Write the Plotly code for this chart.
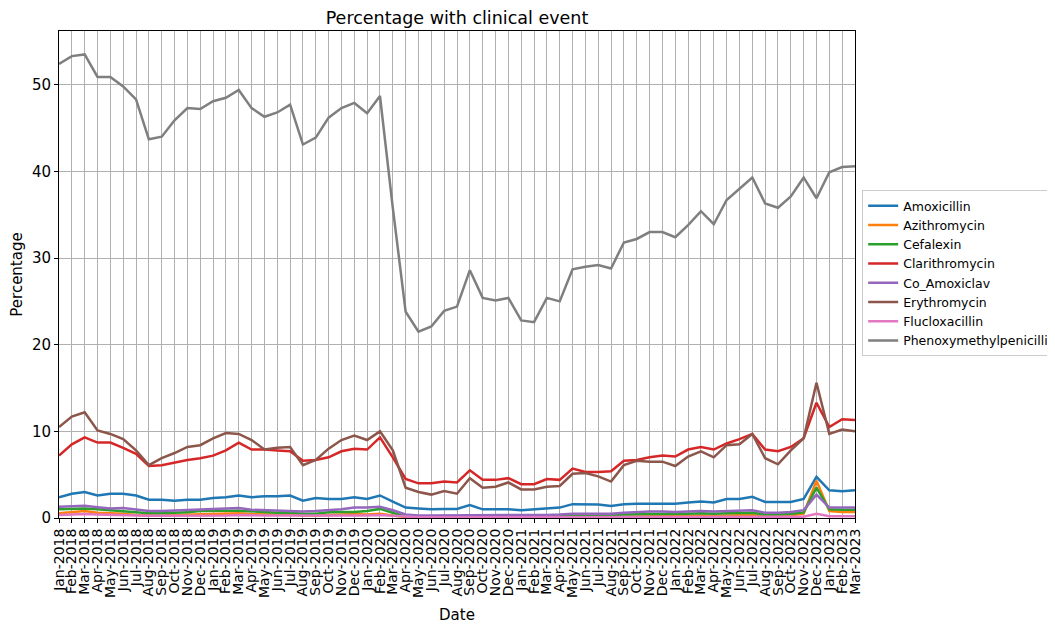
import plotly.graph_objects as go

month_names = ["Jan", "Feb", "Mar", "Apr", "May", "Jun", "Jul", "Aug", "Sep", "Oct", "Nov", "Dec"]
dates = [f"{m}-{y}" for y in range(2018, 2023) for m in month_names] + ["Jan-2023", "Feb-2023", "Mar-2023"]

amoxicillin = [2.4, 2.8, 3.0, 2.6, 2.8, 2.8, 2.6, 2.1, 2.1, 2.0, 2.1, 2.1,
               2.3, 2.4, 2.6, 2.4, 2.5, 2.5, 2.6, 2.0, 2.3, 2.2, 2.2, 2.4,
               2.2, 2.6, 1.9, 1.2, 1.1, 1.0, 1.05, 1.05, 1.5, 1.0, 1.0, 1.0,
               0.9, 1.0, 1.1, 1.2, 1.6, 1.6, 1.55, 1.4, 1.6, 1.65, 1.65, 1.65,
               1.65, 1.8, 1.9, 1.8, 2.2, 2.2, 2.45, 1.85, 1.85, 1.85, 2.2, 4.75,
               3.2, 3.1, 3.2]
azithromycin = [0.55, 0.7, 0.8, 0.6, 0.55, 0.5, 0.35, 0.3, 0.3, 0.35, 0.4, 0.45,
                0.45, 0.5, 0.55, 0.45, 0.4, 0.4, 0.4, 0.3, 0.3, 0.35, 0.4, 0.45,
                0.4, 0.5, 0.3, 0.1, 0.08, 0.08, 0.08, 0.08, 0.1, 0.08, 0.08, 0.08,
                0.06, 0.06, 0.07, 0.08, 0.1, 0.1, 0.1, 0.1, 0.15, 0.2, 0.2, 0.2,
                0.2, 0.25, 0.3, 0.25, 0.3, 0.3, 0.35, 0.2, 0.2, 0.3, 0.5, 4.3,
                0.8, 0.7, 0.7]
cefalexin = [1.0, 1.05, 1.1, 1.0, 0.9, 0.8, 0.7, 0.55, 0.55, 0.6, 0.65, 0.8,
             0.85, 0.85, 0.85, 0.75, 0.65, 0.6, 0.6, 0.5, 0.5, 0.65, 0.7, 0.7,
             0.8, 1.05, 0.6, 0.2, 0.15, 0.15, 0.15, 0.15, 0.2, 0.15, 0.15, 0.15,
             0.15, 0.15, 0.2, 0.2, 0.3, 0.3, 0.35, 0.35, 0.4, 0.45, 0.45, 0.45,
             0.45, 0.5, 0.55, 0.5, 0.55, 0.55, 0.6, 0.4, 0.4, 0.5, 0.65, 3.5,
             1.0, 0.95, 0.95]
clarithromycin = [7.2, 8.5, 9.3, 8.7, 8.7, 8.1, 7.4, 6.0, 6.1, 6.4, 6.7, 6.9,
                  7.2, 7.8, 8.7, 7.9, 7.9, 7.8, 7.7, 6.6, 6.7, 7.0, 7.7, 8.0,
                  7.9, 9.3, 7.0, 4.5, 4.0, 4.0, 4.2, 4.1, 5.5, 4.4, 4.4, 4.6,
                  3.9, 3.9, 4.5, 4.4, 5.7, 5.3, 5.3, 5.4, 6.6, 6.7, 7.0, 7.2,
                  7.1, 7.9, 8.2, 7.9, 8.6, 9.1, 9.7, 7.9, 7.7, 8.2, 9.2, 13.3,
                  10.5, 11.4, 11.3]
co_amoxiclav = [1.3, 1.35, 1.4, 1.25, 1.1, 1.15, 0.95, 0.8, 0.8, 0.85, 0.95, 1.0,
                1.0, 1.05, 1.15, 0.95, 0.9, 0.9, 0.85, 0.75, 0.8, 0.9, 1.0, 1.2,
                1.2, 1.3, 0.9, 0.4, 0.3, 0.3, 0.3, 0.3, 0.35, 0.3, 0.3, 0.3,
                0.3, 0.3, 0.35, 0.4, 0.5, 0.5, 0.5, 0.5, 0.6, 0.7, 0.75, 0.75,
                0.7, 0.75, 0.8, 0.75, 0.8, 0.85, 0.9, 0.6, 0.6, 0.7, 0.9, 2.7,
                1.2, 1.2, 1.2]
erythromycin = [10.5, 11.7, 12.2, 10.1, 9.7, 9.1, 7.8, 6.1, 6.9, 7.5, 8.2, 8.4,
                9.2, 9.8, 9.7, 9.0, 7.9, 8.1, 8.2, 6.1, 6.7, 8.0, 9.0, 9.5,
                9.0, 10.0, 7.8, 3.5, 3.0, 2.7, 3.1, 2.8, 4.6, 3.5, 3.6, 4.1,
                3.3, 3.3, 3.6, 3.7, 5.1, 5.2, 4.8, 4.2, 6.1, 6.6, 6.5, 6.5,
                6.0, 7.1, 7.7, 7.0, 8.4, 8.5, 9.7, 6.9, 6.2, 7.8, 9.2, 15.6,
                9.7, 10.2, 10.0]
flucloxacillin = [0.35, 0.4, 0.45, 0.4, 0.35, 0.35, 0.3, 0.25, 0.25, 0.25, 0.3, 0.3,
                  0.3, 0.3, 0.35, 0.3, 0.3, 0.3, 0.3, 0.25, 0.25, 0.25, 0.3, 0.3,
                  0.3, 0.35, 0.25, 0.1, 0.08, 0.08, 0.08, 0.08, 0.1, 0.08, 0.08, 0.08,
                  0.08, 0.08, 0.08, 0.1, 0.1, 0.1, 0.1, 0.1, 0.12, 0.12, 0.12, 0.12,
                  0.12, 0.12, 0.13, 0.12, 0.13, 0.13, 0.14, 0.1, 0.1, 0.12, 0.15, 0.5,
                  0.2, 0.2, 0.2]
phenoxymethylpenicillin = [52.4, 53.3, 53.5, 50.9, 50.9, 49.8, 48.3, 43.7, 44.0, 45.9, 47.3, 47.2,
                           48.1, 48.5, 49.4, 47.3, 46.3, 46.8, 47.7, 43.1, 43.9, 46.2, 47.3, 47.9,
                           46.7, 48.7, 35.8, 23.8, 21.5, 22.1, 23.9, 24.4, 28.6, 25.4, 25.1, 25.4,
                           22.8, 22.6, 25.4, 25.0, 28.7, 29.0, 29.2, 28.8, 31.8, 32.2, 33.0, 33.0,
                           32.4, 33.8, 35.4, 33.9, 36.7, 38.0, 39.3, 36.3, 35.8, 37.1, 39.3, 36.9,
                           39.9, 40.5, 40.6]

series = [
    ("Amoxicillin", amoxicillin, "#1f77b4"),
    ("Azithromycin", azithromycin, "#ff7f0e"),
    ("Cefalexin", cefalexin, "#2ca02c"),
    ("Clarithromycin", clarithromycin, "#d62728"),
    ("Co_Amoxiclav", co_amoxiclav, "#9467bd"),
    ("Erythromycin", erythromycin, "#8c564b"),
    ("Flucloxacillin", flucloxacillin, "#e377c2"),
    ("Phenoxymethylpenicillin", phenoxymethylpenicillin, "#7f7f7f"),
]

fig = go.Figure()
for name, vals, color in series:
    fig.add_trace(go.Scatter(x=dates, y=vals, mode="lines", name=name,
                             line=dict(color=color, width=2.5)))

W, H = 1047, 621
font_family = "DejaVu Sans"
fig.update_layout(
    width=W, height=H,
    paper_bgcolor="white", plot_bgcolor="white",
    font=dict(family=font_family, size=14, color="black"),
    margin=dict(l=51, r=200, t=23, b=111, autoexpand=False),
    title=dict(text="Percentage with clinical event", x=0.5, xref="paper",
               y=1 - 9.5 / H, yref="container", yanchor="middle", xanchor="center",
               font=dict(size=17.5, family=font_family)),
    showlegend=True,
    legend=dict(x=1.009, xanchor="left", y=0.503, yanchor="middle",
                bordercolor="#cccccc", borderwidth=1, bgcolor="white",
                font=dict(size=12.5, family=font_family), itemwidth=30,
                tracegroupgap=0),
)
fig.update_xaxes(
    type="category", categoryorder="array", categoryarray=dates,
    range=[0, len(dates) - 1],
    tickmode="array", tickvals=dates, ticktext=dates,
    tickangle=-90, tickfont=dict(size=14),
    showgrid=True, gridcolor="#b0b0b0", gridwidth=1,
    ticks="outside", ticklen=4, tickcolor="black",
    showline=True, linecolor="black", linewidth=1, mirror=True,
    zeroline=False,
    title=dict(text="Date", standoff=12, font=dict(size=15)),
)
fig.update_yaxes(
    range=[0, 56.2],
    tickvals=[0, 10, 20, 30, 40, 50],
    tickfont=dict(size=15),
    showgrid=True, gridcolor="#b0b0b0", gridwidth=1,
    ticks="outside", ticklen=4, tickcolor="black",
    showline=True, linecolor="black", linewidth=1, mirror=True,
    zeroline=False,
    title=dict(text="Percentage", standoff=5, font=dict(size=15)),
)

fig.write_html("out.html")
